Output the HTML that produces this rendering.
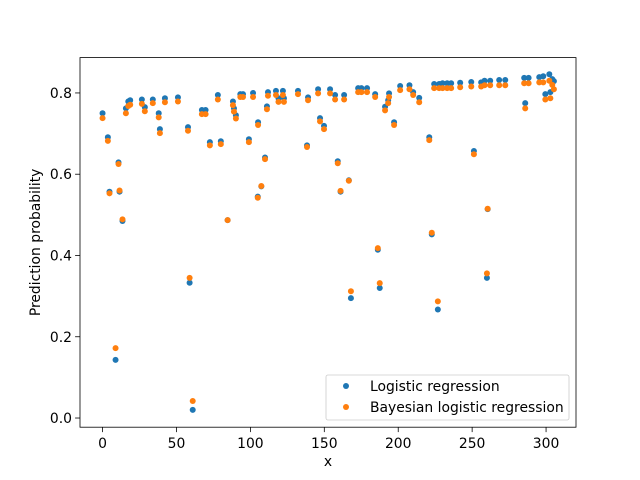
<!DOCTYPE html>
<html><head><meta charset="utf-8"><style>
html,body{margin:0;padding:0;background:#fff;}
svg{display:block;font-family:"DejaVu Sans","Liberation Sans",sans-serif;}
</style></head><body>
<svg id="chart" width="640" height="480" viewBox="0 0 640 480" xmlns="http://www.w3.org/2000/svg">
<rect x="0" y="0" width="640" height="480" fill="#fff"/>
<g id="plot"></g>
<g id="axes"></g>
</svg>
<script>
const xValues=[0,3.6,4.7,8.8,10.8,11.5,13.5,15.8,17.4,18.7,26.6,28.6,34,38,38.8,42.2,51,57.8,58.9,61,67.2,69.7,72.6,78,80,84.6,88.2,88.9,90.2,93.2,95,99,101.8,105,105.2,107.4,109.9,111.2,111.9,117.3,119,122,122.7,132.2,138.3,139,145.8,147.1,149.8,153.9,157.3,159.1,161,163.4,166.6,168,172.9,175.1,178.9,184.4,186.2,187.5,191.1,193.2,193.8,197.2,201.3,207.6,210.1,214.2,221,222.7,224.3,226.8,227.7,230,233.1,235.8,241.9,249.4,251.2,256.1,258.4,260,260.5,262.2,268.3,272.4,285.2,285.9,288.2,295.4,298.1,299.5,302.2,302.9,304.2,305.3];
const logistic=[0.750,0.691,0.557,0.143,0.629,0.557,0.485,0.762,0.779,0.782,0.784,0.765,0.784,0.750,0.711,0.787,0.789,0.716,0.333,0.020,0.758,0.758,0.679,0.795,0.681,0.487,0.779,0.762,0.745,0.797,0.797,0.686,0.800,0.545,0.728,0.570,0.641,0.767,0.802,0.805,0.787,0.805,0.787,0.805,0.671,0.789,0.809,0.738,0.719,0.809,0.795,0.632,0.557,0.795,0.585,0.295,0.812,0.812,0.812,0.797,0.414,0.320,0.766,0.782,0.799,0.728,0.817,0.819,0.802,0.788,0.691,0.452,0.822,0.267,0.822,0.824,0.824,0.824,0.825,0.827,0.657,0.826,0.830,0.345,0.514,0.830,0.832,0.832,0.837,0.775,0.837,0.839,0.841,0.797,0.846,0.802,0.834,0.829];
const bayesian=[0.738,0.682,0.553,0.172,0.625,0.560,0.489,0.750,0.768,0.771,0.773,0.755,0.775,0.740,0.701,0.777,0.779,0.707,0.345,0.042,0.748,0.748,0.671,0.784,0.674,0.487,0.770,0.754,0.737,0.790,0.790,0.679,0.790,0.542,0.721,0.571,0.637,0.760,0.793,0.795,0.778,0.795,0.778,0.797,0.667,0.782,0.799,0.730,0.711,0.799,0.784,0.627,0.559,0.784,0.584,0.312,0.802,0.802,0.802,0.790,0.418,0.332,0.757,0.775,0.790,0.721,0.807,0.809,0.795,0.777,0.684,0.456,0.812,0.287,0.812,0.812,0.812,0.812,0.814,0.816,0.649,0.816,0.819,0.356,0.515,0.819,0.819,0.819,0.824,0.762,0.824,0.826,0.826,0.784,0.830,0.787,0.820,0.809];
const xTicks=[0,50,100,150,200,250,300];
const yTicks=[0.0,0.2,0.4,0.6,0.8];
const yTickLabels=["0.0","0.2","0.4","0.6","0.8"];

const L=80,R=576,T=57.6,B=427.2;
const xmin=-15.25,xmax=320.25,ymin=-0.0226,ymax=0.887;
const sx=v=>L+(v-xmin)/(xmax-xmin)*(R-L);
const sy=v=>B-(v-ymin)/(ymax-ymin)*(B-T);
const NS="http://www.w3.org/2000/svg";
const FS=13.9;
function mk(tag,attrs,parent){const e=document.createElementNS(NS,tag);for(const k in attrs)e.setAttribute(k,attrs[k]);parent.appendChild(e);return e;}
const plot=document.getElementById('plot'),axes=document.getElementById('axes');

xValues.forEach((x,i)=>{
  const c=mk('circle',{cx:sx(x),cy:sy(logistic[i]),r:3,fill:'#1f77b4'},plot);
  
  
});
xValues.forEach((x,i)=>{
  const c=mk('circle',{cx:sx(x),cy:sy(bayesian[i]),r:3,fill:'#ff7f0e'},plot);
  
  
});

const frame=mk('rect',{x:L,y:T,width:R-L,height:B-T,fill:'none',stroke:'#000','stroke-width':0.8},axes);



xTicks.forEach(t=>{
  const x=sx(t);
  mk('line',{x1:x,x2:x,y1:B,y2:B+4.9,stroke:'#000','stroke-width':0.8},axes);
  const tx=mk('text',{x:x,y:B+21,'text-anchor':'middle','font-size':FS,fill:'#000'},axes);
  tx.textContent=t;
  
  
});
yTicks.forEach((t,i)=>{
  const y=sy(t);
  mk('line',{x1:L-4.9,x2:L,y1:y,y2:y,stroke:'#000','stroke-width':0.8},axes);
  const tx=mk('text',{x:L-8,y:y+5,'text-anchor':'end','font-size':FS,fill:'#000'},axes);
  tx.textContent=yTickLabels[i];
  
  
});
const xt=mk('text',{x:(L+R)/2,y:466,'text-anchor':'middle','font-size':FS,fill:'#000'},axes);
xt.textContent='x';


const yt=mk('text',{x:0,y:0,'text-anchor':'middle','font-size':FS,fill:'#000',transform:'translate(40,'+((T+B)/2)+') rotate(-90)'},axes);
yt.textContent='Prediction probability';



const lg=mk('g',{},axes);


mk('rect',{x:326,y:375,width:243,height:45,rx:2,fill:'#fff','fill-opacity':0.8,stroke:'#ccc','stroke-width':0.8},lg);
const entries=[['Logistic regression','#1f77b4',386],['Bayesian logistic regression','#ff7f0e',407]];
entries.forEach(e=>{
  const g=mk('g',{},lg);
  
  
  mk('circle',{cx:346,cy:e[2],r:3,fill:e[1]},g);
  const t=mk('text',{x:370,y:e[2]+5,'font-size':FS,fill:'#000'},g);
  t.textContent=e[0];
});
</script>
</body></html>
